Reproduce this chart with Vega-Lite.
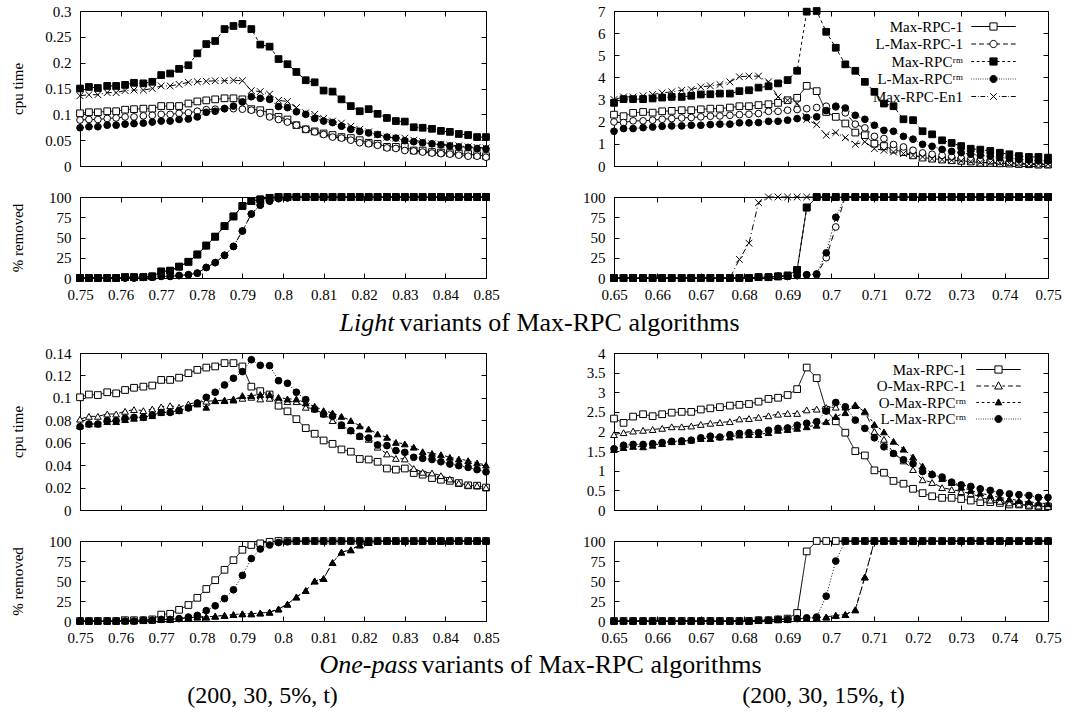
{
"$schema": "https://vega.github.io/schema/vega-lite/v6.json",
"background": "white",
"padding": {"left": 9, "top": 3, "right": 5, "bottom": 0},
"datasets": {
"cl1": [
{"t":0.75,"a":0.102,"b":0.089,"c":0.150,"d":0.074,"e":0.136},
{"t":0.7522,"a":0.104,"b":0.090,"c":0.153,"d":0.076,"e":0.138},
{"t":0.7544,"a":0.104,"b":0.090,"c":0.151,"d":0.076,"e":0.138},
{"t":0.7567,"a":0.106,"b":0.092,"c":0.155,"d":0.079,"e":0.142},
{"t":0.7589,"a":0.106,"b":0.093,"c":0.155,"d":0.079,"e":0.142},
{"t":0.7611,"a":0.109,"b":0.095,"c":0.157,"d":0.081,"e":0.146},
{"t":0.7633,"a":0.110,"b":0.095,"c":0.161,"d":0.082,"e":0.147},
{"t":0.7656,"a":0.111,"b":0.097,"c":0.160,"d":0.083,"e":0.147},
{"t":0.7678,"a":0.111,"b":0.098,"c":0.163,"d":0.085,"e":0.150},
{"t":0.77,"a":0.116,"b":0.100,"c":0.176,"d":0.087,"e":0.155},
{"t":0.7722,"a":0.116,"b":0.100,"c":0.179,"d":0.087,"e":0.155},
{"t":0.7744,"a":0.116,"b":0.102,"c":0.188,"d":0.090,"e":0.158},
{"t":0.7767,"a":0.121,"b":0.103,"c":0.195,"d":0.091,"e":0.162},
{"t":0.7789,"a":0.125,"b":0.106,"c":0.218,"d":0.095,"e":0.163},
{"t":0.7811,"a":0.127,"b":0.109,"c":0.236,"d":0.104,"e":0.164},
{"t":0.7833,"a":0.129,"b":0.110,"c":0.242,"d":0.106,"e":0.165},
{"t":0.7856,"a":0.131,"b":0.111,"c":0.265,"d":0.111,"e":0.165},
{"t":0.7878,"a":0.131,"b":0.111,"c":0.271,"d":0.116,"e":0.166},
{"t":0.79,"a":0.129,"b":0.110,"c":0.275,"d":0.124,"e":0.165},
{"t":0.7922,"a":0.110,"b":0.108,"c":0.265,"d":0.134,"e":0.146},
{"t":0.7944,"a":0.108,"b":0.102,"c":0.235,"d":0.131,"e":0.144},
{"t":0.7967,"a":0.103,"b":0.095,"c":0.231,"d":0.129,"e":0.139},
{"t":0.7989,"a":0.095,"b":0.090,"c":0.207,"d":0.115,"e":0.127},
{"t":0.8011,"a":0.090,"b":0.085,"c":0.197,"d":0.113,"e":0.125},
{"t":0.8033,"a":0.079,"b":0.079,"c":0.182,"d":0.105,"e":0.113},
{"t":0.8056,"a":0.071,"b":0.071,"c":0.166,"d":0.100,"e":0.103},
{"t":0.8078,"a":0.067,"b":0.066,"c":0.162,"d":0.092,"e":0.100},
{"t":0.81,"a":0.063,"b":0.061,"c":0.146,"d":0.087,"e":0.092},
{"t":0.8122,"a":0.060,"b":0.056,"c":0.144,"d":0.084,"e":0.087},
{"t":0.8144,"a":0.056,"b":0.054,"c":0.129,"d":0.077,"e":0.083},
{"t":0.8167,"a":0.054,"b":0.050,"c":0.116,"d":0.071,"e":0.077},
{"t":0.8189,"a":0.050,"b":0.045,"c":0.106,"d":0.067,"e":0.071},
{"t":0.8211,"a":0.045,"b":0.043,"c":0.110,"d":0.064,"e":0.066},
{"t":0.8233,"a":0.043,"b":0.040,"c":0.101,"d":0.061,"e":0.061},
{"t":0.8256,"a":0.037,"b":0.035,"c":0.093,"d":0.056,"e":0.056},
{"t":0.8278,"a":0.037,"b":0.034,"c":0.087,"d":0.054,"e":0.054},
{"t":0.83,"a":0.037,"b":0.030,"c":0.086,"d":0.049,"e":0.054},
{"t":0.8322,"a":0.030,"b":0.029,"c":0.075,"d":0.047,"e":0.050},
{"t":0.8344,"a":0.030,"b":0.027,"c":0.074,"d":0.045,"e":0.047},
{"t":0.8367,"a":0.027,"b":0.025,"c":0.072,"d":0.043,"e":0.043},
{"t":0.8389,"a":0.026,"b":0.024,"c":0.068,"d":0.041,"e":0.042},
{"t":0.8411,"a":0.025,"b":0.023,"c":0.066,"d":0.039,"e":0.040},
{"t":0.8433,"a":0.024,"b":0.021,"c":0.062,"d":0.037,"e":0.039},
{"t":0.8456,"a":0.023,"b":0.019,"c":0.060,"d":0.036,"e":0.037},
{"t":0.8478,"a":0.021,"b":0.019,"c":0.056,"d":0.034,"e":0.036},
{"t":0.85,"a":0.019,"b":0.017,"c":0.056,"d":0.033,"e":0.035}
],
"rl1": [
{"t":0.75,"a":0,"b":0,"c":0,"d":0,"e":0},
{"t":0.7522,"a":0,"b":0,"c":0,"d":0,"e":0},
{"t":0.7544,"a":0,"b":0,"c":0,"d":0,"e":0},
{"t":0.7567,"a":0,"b":0,"c":0,"d":0,"e":0},
{"t":0.7589,"a":0,"b":0,"c":0,"d":0,"e":0},
{"t":0.7611,"a":1,"b":0,"c":1,"d":0,"e":1},
{"t":0.7633,"a":1,"b":0,"c":1,"d":0,"e":1},
{"t":0.7656,"a":1,"b":1,"c":1,"d":1,"e":1},
{"t":0.7678,"a":2,"b":1,"c":2,"d":1,"e":2},
{"t":0.77,"a":8,"b":2,"c":8,"d":2,"e":8},
{"t":0.7722,"a":9,"b":2,"c":9,"d":2,"e":9},
{"t":0.7744,"a":14,"b":3,"c":14,"d":3,"e":14},
{"t":0.7767,"a":20,"b":4,"c":20,"d":4,"e":20},
{"t":0.7789,"a":29,"b":6,"c":29,"d":6,"e":29},
{"t":0.7811,"a":40,"b":13,"c":40,"d":13,"e":40},
{"t":0.7833,"a":51,"b":19,"c":51,"d":19,"e":51},
{"t":0.7856,"a":64,"b":28,"c":64,"d":28,"e":64},
{"t":0.7878,"a":76,"b":39,"c":76,"d":39,"e":76},
{"t":0.79,"a":89,"b":58,"c":89,"d":58,"e":89},
{"t":0.7922,"a":95,"b":79,"c":95,"d":79,"e":95},
{"t":0.7944,"a":97,"b":90,"c":97,"d":90,"e":97},
{"t":0.7967,"a":99,"b":95,"c":99,"d":95,"e":99},
{"t":0.7989,"a":100,"b":98,"c":100,"d":98,"e":100},
{"t":0.8011,"a":100,"b":99,"c":100,"d":99,"e":100},
{"t":0.8033,"a":100,"b":100,"c":100,"d":100,"e":100},
{"t":0.8056,"a":100,"b":100,"c":100,"d":100,"e":100},
{"t":0.8078,"a":100,"b":100,"c":100,"d":100,"e":100},
{"t":0.81,"a":100,"b":100,"c":100,"d":100,"e":100},
{"t":0.8122,"a":100,"b":100,"c":100,"d":100,"e":100},
{"t":0.8144,"a":100,"b":100,"c":100,"d":100,"e":100},
{"t":0.8167,"a":100,"b":100,"c":100,"d":100,"e":100},
{"t":0.8189,"a":100,"b":100,"c":100,"d":100,"e":100},
{"t":0.8211,"a":100,"b":100,"c":100,"d":100,"e":100},
{"t":0.8233,"a":100,"b":100,"c":100,"d":100,"e":100},
{"t":0.8256,"a":100,"b":100,"c":100,"d":100,"e":100},
{"t":0.8278,"a":100,"b":100,"c":100,"d":100,"e":100},
{"t":0.83,"a":100,"b":100,"c":100,"d":100,"e":100},
{"t":0.8322,"a":100,"b":100,"c":100,"d":100,"e":100},
{"t":0.8344,"a":100,"b":100,"c":100,"d":100,"e":100},
{"t":0.8367,"a":100,"b":100,"c":100,"d":100,"e":100},
{"t":0.8389,"a":100,"b":100,"c":100,"d":100,"e":100},
{"t":0.8411,"a":100,"b":100,"c":100,"d":100,"e":100},
{"t":0.8433,"a":100,"b":100,"c":100,"d":100,"e":100},
{"t":0.8456,"a":100,"b":100,"c":100,"d":100,"e":100},
{"t":0.8478,"a":100,"b":100,"c":100,"d":100,"e":100},
{"t":0.85,"a":100,"b":100,"c":100,"d":100,"e":100}
],
"cr1": [
{"t":0.65,"a":2.32,"b":1.99,"c":2.85,"d":1.57,"e":3.0},
{"t":0.6522,"a":2.25,"b":1.96,"c":3.02,"d":1.69,"e":3.12},
{"t":0.6544,"a":2.40,"b":2.04,"c":3.02,"d":1.69,"e":3.12},
{"t":0.6567,"a":2.44,"b":2.04,"c":3.02,"d":1.73,"e":3.17},
{"t":0.6589,"a":2.41,"b":2.07,"c":3.05,"d":1.76,"e":3.23},
{"t":0.6611,"a":2.47,"b":2.11,"c":3.09,"d":1.79,"e":3.30},
{"t":0.6633,"a":2.49,"b":2.14,"c":3.12,"d":1.81,"e":3.35},
{"t":0.6656,"a":2.52,"b":2.17,"c":3.12,"d":1.81,"e":3.42},
{"t":0.6678,"a":2.52,"b":2.19,"c":3.17,"d":1.84,"e":3.45},
{"t":0.67,"a":2.56,"b":2.22,"c":3.23,"d":1.84,"e":3.57},
{"t":0.6722,"a":2.59,"b":2.25,"c":3.24,"d":1.87,"e":3.62},
{"t":0.6744,"a":2.59,"b":2.26,"c":3.27,"d":1.89,"e":3.68},
{"t":0.6767,"a":2.64,"b":2.29,"c":3.27,"d":1.89,"e":3.80},
{"t":0.6789,"a":2.70,"b":2.32,"c":3.38,"d":1.95,"e":4.03},
{"t":0.6811,"a":2.70,"b":2.34,"c":3.42,"d":1.95,"e":4.06},
{"t":0.6833,"a":2.75,"b":2.37,"c":3.54,"d":1.96,"e":4.06},
{"t":0.6856,"a":2.79,"b":2.47,"c":3.60,"d":2.02,"e":3.80},
{"t":0.6878,"a":2.85,"b":2.47,"c":3.73,"d":2.02,"e":3.12},
{"t":0.69,"a":2.97,"b":2.52,"c":3.88,"d":2.07,"e":2.97},
{"t":0.6922,"a":3.08,"b":2.55,"c":4.30,"d":2.14,"e":2.82},
{"t":0.6944,"a":3.62,"b":2.59,"c":6.97,"d":2.19,"e":2.10},
{"t":0.6967,"a":3.38,"b":2.64,"c":7.0,"d":2.22,"e":1.87},
{"t":0.6989,"a":2.44,"b":2.70,"c":6.06,"d":2.50,"e":1.39},
{"t":0.7011,"a":2.22,"b":2.67,"c":5.34,"d":2.70,"e":1.51},
{"t":0.7033,"a":1.92,"b":2.40,"c":4.59,"d":2.62,"e":1.28},
{"t":0.7056,"a":1.51,"b":1.89,"c":4.30,"d":2.29,"e":0.98},
{"t":0.7078,"a":1.39,"b":1.72,"c":3.80,"d":2.11,"e":1.09},
{"t":0.71,"a":1.01,"b":1.34,"c":3.35,"d":1.84,"e":0.78},
{"t":0.7122,"a":0.90,"b":1.24,"c":2.82,"d":1.61,"e":0.71},
{"t":0.7144,"a":0.74,"b":0.97,"c":2.70,"d":1.57,"e":0.63},
{"t":0.7167,"a":0.63,"b":0.86,"c":2.11,"d":1.34,"e":0.56},
{"t":0.7189,"a":0.48,"b":0.71,"c":2.07,"d":1.21,"e":0.48},
{"t":0.7211,"a":0.38,"b":0.59,"c":1.57,"d":0.98,"e":0.41},
{"t":0.7233,"a":0.33,"b":0.53,"c":1.43,"d":0.89,"e":0.33},
{"t":0.7256,"a":0.29,"b":0.48,"c":1.16,"d":0.75,"e":0.29},
{"t":0.7278,"a":0.26,"b":0.41,"c":1.04,"d":0.66,"e":0.26},
{"t":0.73,"a":0.23,"b":0.35,"c":0.90,"d":0.60,"e":0.23},
{"t":0.7322,"a":0.20,"b":0.30,"c":0.78,"d":0.53,"e":0.20},
{"t":0.7344,"a":0.15,"b":0.26,"c":0.74,"d":0.48,"e":0.17},
{"t":0.7367,"a":0.14,"b":0.23,"c":0.68,"d":0.44,"e":0.15},
{"t":0.7389,"a":0.12,"b":0.20,"c":0.60,"d":0.38,"e":0.14},
{"t":0.7411,"a":0.11,"b":0.17,"c":0.53,"d":0.35,"e":0.12},
{"t":0.7433,"a":0.09,"b":0.14,"c":0.45,"d":0.30,"e":0.11},
{"t":0.7456,"a":0.08,"b":0.11,"c":0.41,"d":0.27,"e":0.09},
{"t":0.7478,"a":0.06,"b":0.09,"c":0.41,"d":0.24,"e":0.09},
{"t":0.75,"a":0.06,"b":0.08,"c":0.38,"d":0.23,"e":0.08}
],
"rr1": [
{"t":0.65,"a":0,"b":0,"c":0,"d":0,"e":0},
{"t":0.6522,"a":0,"b":0,"c":0,"d":0,"e":0},
{"t":0.6544,"a":0,"b":0,"c":0,"d":0,"e":0},
{"t":0.6567,"a":0,"b":0,"c":0,"d":0,"e":0},
{"t":0.6589,"a":0,"b":0,"c":0,"d":0,"e":0},
{"t":0.6611,"a":0,"b":0,"c":0,"d":0,"e":0},
{"t":0.6633,"a":0,"b":0,"c":0,"d":0,"e":0},
{"t":0.6656,"a":0,"b":0,"c":0,"d":0,"e":0},
{"t":0.6678,"a":0,"b":0,"c":0,"d":0,"e":0},
{"t":0.67,"a":0,"b":0,"c":0,"d":0,"e":0},
{"t":0.6722,"a":0,"b":0,"c":0,"d":0,"e":0},
{"t":0.6744,"a":0,"b":0,"c":0,"d":0,"e":0},
{"t":0.6767,"a":0,"b":0,"c":0,"d":0,"e":0},
{"t":0.6789,"a":0,"b":0,"c":0,"d":0,"e":23},
{"t":0.6811,"a":0,"b":0,"c":0,"d":0,"e":43},
{"t":0.6833,"a":1,"b":1,"c":1,"d":1,"e":93},
{"t":0.6856,"a":1,"b":1,"c":1,"d":1,"e":100},
{"t":0.6878,"a":2,"b":2,"c":2,"d":2,"e":100},
{"t":0.69,"a":3,"b":2,"c":3,"d":2,"e":100},
{"t":0.6922,"a":10,"b":3,"c":10,"d":3,"e":100},
{"t":0.6944,"a":87,"b":4,"c":87,"d":4,"e":100},
{"t":0.6967,"a":100,"b":4,"c":100,"d":5,"e":100},
{"t":0.6989,"a":100,"b":25,"c":100,"d":31,"e":100},
{"t":0.7011,"a":100,"b":63,"c":100,"d":75,"e":100},
{"t":0.7033,"a":100,"b":100,"c":100,"d":100,"e":100},
{"t":0.7056,"a":100,"b":100,"c":100,"d":100,"e":100},
{"t":0.7078,"a":100,"b":100,"c":100,"d":100,"e":100},
{"t":0.71,"a":100,"b":100,"c":100,"d":100,"e":100},
{"t":0.7122,"a":100,"b":100,"c":100,"d":100,"e":100},
{"t":0.7144,"a":100,"b":100,"c":100,"d":100,"e":100},
{"t":0.7167,"a":100,"b":100,"c":100,"d":100,"e":100},
{"t":0.7189,"a":100,"b":100,"c":100,"d":100,"e":100},
{"t":0.7211,"a":100,"b":100,"c":100,"d":100,"e":100},
{"t":0.7233,"a":100,"b":100,"c":100,"d":100,"e":100},
{"t":0.7256,"a":100,"b":100,"c":100,"d":100,"e":100},
{"t":0.7278,"a":100,"b":100,"c":100,"d":100,"e":100},
{"t":0.73,"a":100,"b":100,"c":100,"d":100,"e":100},
{"t":0.7322,"a":100,"b":100,"c":100,"d":100,"e":100},
{"t":0.7344,"a":100,"b":100,"c":100,"d":100,"e":100},
{"t":0.7367,"a":100,"b":100,"c":100,"d":100,"e":100},
{"t":0.7389,"a":100,"b":100,"c":100,"d":100,"e":100},
{"t":0.7411,"a":100,"b":100,"c":100,"d":100,"e":100},
{"t":0.7433,"a":100,"b":100,"c":100,"d":100,"e":100},
{"t":0.7456,"a":100,"b":100,"c":100,"d":100,"e":100},
{"t":0.7478,"a":100,"b":100,"c":100,"d":100,"e":100},
{"t":0.75,"a":100,"b":100,"c":100,"d":100,"e":100}
],
"cl2": [
{"t":0.75,"a":0.1005,"b":0.081,"c":0.075,"d":0.0743},
{"t":0.7522,"a":0.103,"b":0.0835,"c":0.0767,"d":0.0767},
{"t":0.7544,"a":0.1025,"b":0.0835,"c":0.0767,"d":0.0767},
{"t":0.7567,"a":0.105,"b":0.0856,"c":0.0788,"d":0.0797},
{"t":0.7589,"a":0.104,"b":0.0856,"c":0.0788,"d":0.0797},
{"t":0.7611,"a":0.107,"b":0.088,"c":0.0806,"d":0.0818},
{"t":0.7633,"a":0.109,"b":0.0895,"c":0.0818,"d":0.0826},
{"t":0.7656,"a":0.110,"b":0.0886,"c":0.0826,"d":0.0826},
{"t":0.7678,"a":0.111,"b":0.090,"c":0.0841,"d":0.0847},
{"t":0.77,"a":0.116,"b":0.092,"c":0.087,"d":0.087},
{"t":0.7722,"a":0.116,"b":0.093,"c":0.0877,"d":0.087},
{"t":0.7744,"a":0.118,"b":0.0916,"c":0.0886,"d":0.0886},
{"t":0.7767,"a":0.122,"b":0.0945,"c":0.0916,"d":0.091},
{"t":0.7789,"a":0.125,"b":0.096,"c":0.0945,"d":0.0954},
{"t":0.7811,"a":0.127,"b":0.097,"c":0.0916,"d":0.1005},
{"t":0.7833,"a":0.128,"b":0.0975,"c":0.0975,"d":0.105},
{"t":0.7856,"a":0.131,"b":0.098,"c":0.0975,"d":0.1115},
{"t":0.7878,"a":0.131,"b":0.099,"c":0.098,"d":0.1175},
{"t":0.79,"a":0.128,"b":0.0996,"c":0.102,"d":0.1234},
{"t":0.7922,"a":0.110,"b":0.1005,"c":0.102,"d":0.134},
{"t":0.7944,"a":0.106,"b":0.099,"c":0.103,"d":0.129},
{"t":0.7967,"a":0.103,"b":0.0996,"c":0.103,"d":0.1287},
{"t":0.7989,"a":0.093,"b":0.098,"c":0.1005,"d":0.1153},
{"t":0.8011,"a":0.088,"b":0.0966,"c":0.099,"d":0.113},
{"t":0.8033,"a":0.081,"b":0.0966,"c":0.099,"d":0.105},
{"t":0.8056,"a":0.073,"b":0.0916,"c":0.0954,"d":0.0984},
{"t":0.8078,"a":0.068,"b":0.090,"c":0.0925,"d":0.090},
{"t":0.81,"a":0.062,"b":0.0856,"c":0.0886,"d":0.0856},
{"t":0.8122,"a":0.059,"b":0.0797,"c":0.0865,"d":0.0835},
{"t":0.8144,"a":0.054,"b":0.0752,"c":0.0835,"d":0.0758},
{"t":0.8167,"a":0.052,"b":0.0707,"c":0.0797,"d":0.0707},
{"t":0.8189,"a":0.0455,"b":0.0657,"c":0.075,"d":0.0657},
{"t":0.8211,"a":0.045,"b":0.063,"c":0.0722,"d":0.0642},
{"t":0.8233,"a":0.043,"b":0.056,"c":0.0678,"d":0.058},
{"t":0.8256,"a":0.037,"b":0.050,"c":0.0648,"d":0.0574},
{"t":0.8278,"a":0.036,"b":0.046,"c":0.0603,"d":0.053},
{"t":0.83,"a":0.037,"b":0.0455,"c":0.0589,"d":0.0514},
{"t":0.8322,"a":0.033,"b":0.037,"c":0.056,"d":0.047},
{"t":0.8344,"a":0.0315,"b":0.0336,"c":0.052,"d":0.046},
{"t":0.8367,"a":0.0285,"b":0.033,"c":0.0505,"d":0.045},
{"t":0.8389,"a":0.027,"b":0.0306,"c":0.0493,"d":0.043},
{"t":0.8411,"a":0.026,"b":0.0276,"c":0.047,"d":0.041},
{"t":0.8433,"a":0.024,"b":0.024,"c":0.0455,"d":0.0395},
{"t":0.8456,"a":0.022,"b":0.022,"c":0.044,"d":0.038},
{"t":0.8478,"a":0.0217,"b":0.0217,"c":0.042,"d":0.036},
{"t":0.85,"a":0.020,"b":0.020,"c":0.040,"d":0.034}
],
"rl2": [
{"t":0.75,"a":0,"b":0,"c":0,"d":0},
{"t":0.7522,"a":0,"b":0,"c":0,"d":0},
{"t":0.7544,"a":0,"b":0,"c":0,"d":0},
{"t":0.7567,"a":0,"b":0,"c":0,"d":0},
{"t":0.7589,"a":0,"b":0,"c":0,"d":0},
{"t":0.7611,"a":1,"b":0,"c":0,"d":0},
{"t":0.7633,"a":1,"b":0,"c":0,"d":0},
{"t":0.7656,"a":1,"b":1,"c":1,"d":1},
{"t":0.7678,"a":2,"b":1,"c":1,"d":1},
{"t":0.77,"a":8,"b":2,"c":2,"d":2},
{"t":0.7722,"a":9,"b":2,"c":2,"d":2},
{"t":0.7744,"a":14,"b":3,"c":3,"d":3},
{"t":0.7767,"a":20,"b":4,"c":4,"d":5},
{"t":0.7789,"a":29,"b":5,"c":5,"d":7},
{"t":0.7811,"a":40,"b":5,"c":5,"d":13},
{"t":0.7833,"a":51,"b":6,"c":6,"d":19},
{"t":0.7856,"a":64,"b":7,"c":7,"d":28},
{"t":0.7878,"a":76,"b":8,"c":8,"d":39},
{"t":0.79,"a":89,"b":9,"c":9,"d":57},
{"t":0.7922,"a":95,"b":9,"c":9,"d":78},
{"t":0.7944,"a":97,"b":10,"c":10,"d":90},
{"t":0.7967,"a":99,"b":11,"c":11,"d":95},
{"t":0.7989,"a":100,"b":15,"c":15,"d":98},
{"t":0.8011,"a":100,"b":21,"c":21,"d":99},
{"t":0.8033,"a":100,"b":30,"c":30,"d":100},
{"t":0.8056,"a":100,"b":38,"c":38,"d":100},
{"t":0.8078,"a":100,"b":50,"c":50,"d":100},
{"t":0.81,"a":100,"b":53,"c":53,"d":100},
{"t":0.8122,"a":100,"b":73,"c":73,"d":100},
{"t":0.8144,"a":100,"b":86,"c":86,"d":100},
{"t":0.8167,"a":100,"b":89,"c":89,"d":100},
{"t":0.8189,"a":100,"b":95,"c":95,"d":100},
{"t":0.8211,"a":100,"b":98,"c":98,"d":100},
{"t":0.8233,"a":100,"b":100,"c":100,"d":100},
{"t":0.8256,"a":100,"b":100,"c":100,"d":100},
{"t":0.8278,"a":100,"b":100,"c":100,"d":100},
{"t":0.83,"a":100,"b":100,"c":100,"d":100},
{"t":0.8322,"a":100,"b":100,"c":100,"d":100},
{"t":0.8344,"a":100,"b":100,"c":100,"d":100},
{"t":0.8367,"a":100,"b":100,"c":100,"d":100},
{"t":0.8389,"a":100,"b":100,"c":100,"d":100},
{"t":0.8411,"a":100,"b":100,"c":100,"d":100},
{"t":0.8433,"a":100,"b":100,"c":100,"d":100},
{"t":0.8456,"a":100,"b":100,"c":100,"d":100},
{"t":0.8478,"a":100,"b":100,"c":100,"d":100},
{"t":0.85,"a":100,"b":100,"c":100,"d":100}
],
"cr2": [
{"t":0.65,"a":2.33,"b":1.92,"c":1.54,"d":1.56},
{"t":0.6522,"a":2.22,"b":1.97,"c":1.59,"d":1.65},
{"t":0.6544,"a":2.38,"b":2.01,"c":1.62,"d":1.67},
{"t":0.6567,"a":2.44,"b":2.03,"c":1.61,"d":1.67},
{"t":0.6589,"a":2.39,"b":2.05,"c":1.65,"d":1.69},
{"t":0.6611,"a":2.44,"b":2.08,"c":1.69,"d":1.72},
{"t":0.6633,"a":2.48,"b":2.12,"c":1.74,"d":1.75},
{"t":0.6656,"a":2.50,"b":2.12,"c":1.74,"d":1.76},
{"t":0.6678,"a":2.50,"b":2.14,"c":1.78,"d":1.78},
{"t":0.67,"a":2.56,"b":2.18,"c":1.82,"d":1.84},
{"t":0.6722,"a":2.59,"b":2.21,"c":1.82,"d":1.88},
{"t":0.6744,"a":2.62,"b":2.23,"c":1.86,"d":1.86},
{"t":0.6767,"a":2.66,"b":2.25,"c":1.86,"d":1.92},
{"t":0.6789,"a":2.68,"b":2.32,"c":1.91,"d":1.95},
{"t":0.6811,"a":2.70,"b":2.33,"c":1.92,"d":1.97},
{"t":0.6833,"a":2.76,"b":2.36,"c":1.92,"d":1.97},
{"t":0.6856,"a":2.83,"b":2.40,"c":1.97,"d":2.03},
{"t":0.6878,"a":2.86,"b":2.44,"c":2.03,"d":2.08},
{"t":0.69,"a":2.93,"b":2.46,"c":2.05,"d":2.09},
{"t":0.6922,"a":3.08,"b":2.46,"c":2.08,"d":2.16},
{"t":0.6944,"a":3.63,"b":2.55,"c":2.12,"d":2.21},
{"t":0.6967,"a":3.36,"b":2.57,"c":2.16,"d":2.25},
{"t":0.6989,"a":2.55,"b":2.61,"c":2.25,"d":2.52},
{"t":0.7011,"a":2.26,"b":2.62,"c":2.38,"d":2.74},
{"t":0.7033,"a":1.97,"b":2.62,"c":2.48,"d":2.63},
{"t":0.7056,"a":1.50,"b":2.66,"c":2.68,"d":2.29},
{"t":0.7078,"a":1.39,"b":2.50,"c":2.52,"d":2.08},
{"t":0.71,"a":1.01,"b":2.00,"c":2.18,"d":1.84},
{"t":0.7122,"a":0.95,"b":1.80,"c":1.99,"d":1.61},
{"t":0.7144,"a":0.74,"b":1.45,"c":1.75,"d":1.44},
{"t":0.7167,"a":0.67,"b":1.25,"c":1.55,"d":1.28},
{"t":0.7189,"a":0.54,"b":1.03,"c":1.35,"d":1.18},
{"t":0.7211,"a":0.43,"b":0.77,"c":1.12,"d":0.98},
{"t":0.7233,"a":0.35,"b":0.70,"c":0.93,"d":0.90},
{"t":0.7256,"a":0.31,"b":0.57,"c":0.80,"d":0.84},
{"t":0.7278,"a":0.31,"b":0.52,"c":0.70,"d":0.71},
{"t":0.73,"a":0.28,"b":0.47,"c":0.58,"d":0.64},
{"t":0.7322,"a":0.24,"b":0.42,"c":0.50,"d":0.60},
{"t":0.7344,"a":0.20,"b":0.33,"c":0.43,"d":0.54},
{"t":0.7367,"a":0.20,"b":0.25,"c":0.37,"d":0.50},
{"t":0.7389,"a":0.18,"b":0.22,"c":0.32,"d":0.44},
{"t":0.7411,"a":0.14,"b":0.18,"c":0.28,"d":0.41},
{"t":0.7433,"a":0.14,"b":0.15,"c":0.24,"d":0.39},
{"t":0.7456,"a":0.11,"b":0.12,"c":0.21,"d":0.37},
{"t":0.7478,"a":0.09,"b":0.10,"c":0.18,"d":0.32},
{"t":0.75,"a":0.09,"b":0.09,"c":0.16,"d":0.32}
],
"rr2": [
{"t":0.65,"a":0,"b":0,"c":0,"d":0},
{"t":0.6522,"a":0,"b":0,"c":0,"d":0},
{"t":0.6544,"a":0,"b":0,"c":0,"d":0},
{"t":0.6567,"a":0,"b":0,"c":0,"d":0},
{"t":0.6589,"a":0,"b":0,"c":0,"d":0},
{"t":0.6611,"a":0,"b":0,"c":0,"d":0},
{"t":0.6633,"a":0,"b":0,"c":0,"d":0},
{"t":0.6656,"a":0,"b":0,"c":0,"d":0},
{"t":0.6678,"a":0,"b":0,"c":0,"d":0},
{"t":0.67,"a":0,"b":0,"c":0,"d":0},
{"t":0.6722,"a":0,"b":0,"c":0,"d":0},
{"t":0.6744,"a":0,"b":0,"c":0,"d":0},
{"t":0.6767,"a":0,"b":0,"c":0,"d":0},
{"t":0.6789,"a":0,"b":0,"c":0,"d":0},
{"t":0.6811,"a":0,"b":0,"c":0,"d":0},
{"t":0.6833,"a":1,"b":1,"c":1,"d":1},
{"t":0.6856,"a":1,"b":1,"c":1,"d":1},
{"t":0.6878,"a":2,"b":2,"c":2,"d":2},
{"t":0.69,"a":3,"b":2,"c":2,"d":2},
{"t":0.6922,"a":10,"b":3,"c":3,"d":3},
{"t":0.6944,"a":87,"b":3,"c":3,"d":4},
{"t":0.6967,"a":100,"b":4,"c":4,"d":5},
{"t":0.6989,"a":100,"b":5,"c":5,"d":31},
{"t":0.7011,"a":100,"b":7,"c":7,"d":75},
{"t":0.7033,"a":100,"b":8,"c":8,"d":100},
{"t":0.7056,"a":100,"b":14,"c":14,"d":100},
{"t":0.7078,"a":100,"b":55,"c":55,"d":100},
{"t":0.71,"a":100,"b":100,"c":100,"d":100},
{"t":0.7122,"a":100,"b":100,"c":100,"d":100},
{"t":0.7144,"a":100,"b":100,"c":100,"d":100},
{"t":0.7167,"a":100,"b":100,"c":100,"d":100},
{"t":0.7189,"a":100,"b":100,"c":100,"d":100},
{"t":0.7211,"a":100,"b":100,"c":100,"d":100},
{"t":0.7233,"a":100,"b":100,"c":100,"d":100},
{"t":0.7256,"a":100,"b":100,"c":100,"d":100},
{"t":0.7278,"a":100,"b":100,"c":100,"d":100},
{"t":0.73,"a":100,"b":100,"c":100,"d":100},
{"t":0.7322,"a":100,"b":100,"c":100,"d":100},
{"t":0.7344,"a":100,"b":100,"c":100,"d":100},
{"t":0.7367,"a":100,"b":100,"c":100,"d":100},
{"t":0.7389,"a":100,"b":100,"c":100,"d":100},
{"t":0.7411,"a":100,"b":100,"c":100,"d":100},
{"t":0.7433,"a":100,"b":100,"c":100,"d":100},
{"t":0.7456,"a":100,"b":100,"c":100,"d":100},
{"t":0.7478,"a":100,"b":100,"c":100,"d":100},
{"t":0.75,"a":100,"b":100,"c":100,"d":100}
]
},
"vconcat": [
{
"concat": [
{"width":406,"height":155,"data":{"name":"cl1"},
 "transform":[{"fold":["a","b","c","d","e"],"as":["s","v"]}],
 "layer":[
  {"mark":{"type":"line","color":"black","strokeWidth":1},
   "encoding":{
    "x":{"field":"t","type":"quantitative","scale":{"domain":[0.75,0.85],"nice":false,"zero":false},"axis":{"values":[0.75,0.76,0.77,0.78,0.79,0.8,0.81,0.82,0.83,0.84,0.85],"labels":false,"title":null}},
    "y":{"field":"v","type":"quantitative","scale":{"domain":[0,0.3],"nice":false},"axis":{"values":[0,0.05,0.1,0.15,0.2,0.25,0.3],"format":"~g","title":"cpu time","titleX":-55,"titleY":77.5,"titleAngle":-90,"titleAlign":"center","titleBaseline":"bottom"}},
    "strokeDash":{"field":"s","type":"nominal","scale":{"domain":["a","b","c","d","e"],"range":[[1,0],[6,4],[3,3],[1,2],[6,3,1,3]]},"legend":null}}},
  {"mark":{"type":"point","size":45,"stroke":"black","strokeWidth":1,"opacity":1},
   "encoding":{
    "x":{"field":"t","type":"quantitative","scale":{"domain":[0.75,0.85],"nice":false,"zero":false},"axis":{"orient":"top","values":[0.75,0.76,0.77,0.78,0.79,0.8,0.81,0.82,0.83,0.84,0.85],"labels":false,"title":null}},
    "y":{"field":"v","type":"quantitative","scale":{"domain":[0,0.3],"nice":false},"axis":{"orient":"right","values":[0,0.05,0.1,0.15,0.2,0.25,0.3],"labels":false,"title":null}},
    "shape":{"field":"s","type":"nominal","scale":{"domain":["a","b","c","d","e"],"range":["square","circle","square","circle","M-1,-1L1,1M-1,1L1,-1"]},"legend":null},
    "fill":{"field":"s","type":"nominal","scale":{"domain":["a","b","c","d","e"],"range":["white","white","black","black","black"]},"legend":null}}}
 ],
 "resolve":{"axis":{"x":"independent","y":"independent"}}
},
{"width":434,"height":155,"data":{"name":"cr1"},
 "transform":[{"fold":["a","b","c","d","e"],"as":["s","v"]}],
 "layer":[
  {"mark":{"type":"line","color":"black","strokeWidth":1},
   "encoding":{
    "x":{"field":"t","type":"quantitative","scale":{"domain":[0.65,0.75],"nice":false,"zero":false},"axis":{"values":[0.65,0.66,0.67,0.68,0.69,0.7,0.71,0.72,0.73,0.74,0.75],"labels":false,"title":null}},
    "y":{"field":"v","type":"quantitative","scale":{"domain":[0,7],"nice":false},"axis":{"values":[0,1,2,3,4,5,6,7],"format":"d","title":null}},
    "strokeDash":{"field":"s","type":"nominal","scale":{"domain":["a","b","c","d","e"],"range":[[1,0],[6,4],[3,3],[1,2],[6,3,1,3]]},"legend":null}}},
  {"mark":{"type":"point","size":45,"stroke":"black","strokeWidth":1,"opacity":1},
   "encoding":{
    "x":{"field":"t","type":"quantitative","scale":{"domain":[0.65,0.75],"nice":false,"zero":false},"axis":{"orient":"top","values":[0.65,0.66,0.67,0.68,0.69,0.7,0.71,0.72,0.73,0.74,0.75],"labels":false,"title":null}},
    "y":{"field":"v","type":"quantitative","scale":{"domain":[0,7],"nice":false},"axis":{"orient":"right","values":[0,1,2,3,4,5,6,7],"labels":false,"title":null}},
    "shape":{"field":"s","type":"nominal","scale":{"domain":["a","b","c","d","e"],"range":["square","circle","square","circle","M-1,-1L1,1M-1,1L1,-1"]},"legend":null},
    "fill":{"field":"s","type":"nominal","scale":{"domain":["a","b","c","d","e"],"range":["white","white","black","black","black"]},"legend":null}}},
  {"transform":[{"filter":"datum.v < 0"}],
   "mark":{"type":"point","size":45,"stroke":"black","strokeWidth":1,"opacity":1},
   "encoding":{
    "x":{"field":"t","type":"quantitative","axis":null},
    "y":{"field":"v","type":"quantitative","axis":null},
    "shape":{"field":"s","type":"nominal","scale":{"domain":["a","b","c","d","e"],"range":["M-3.7,0H-0.6M0.6,0H3.7M-0.6,-0.6H0.6V0.6H-0.6Z","M-3.7,0H-2.9M-2.4,0H-1.6M-1.1,0H-0.6M0.6,0H1.1M1.6,0H2.4M2.9,0H3.7M0.6,0A0.6,0.6,0,1,1,-0.6,0A0.6,0.6,0,1,1,0.6,0Z","M-3.7,0H-3.25M-2.8,0H-2.35M-1.9,0H-1.45M-1,0H-0.6M0.6,0H1M1.45,0H1.9M2.35,0H2.8M3.25,0H3.7M-0.6,-0.6H0.6V0.6H-0.6Z","M-3.7,0H-3.58M-3.32,0H-3.2M-2.94,0H-2.82M-2.56,0H-2.44M-2.18,0H-2.06M-1.8,0H-1.68M-1.42,0H-1.3M-1.04,0H-0.92M0.92,0H1.04M1.3,0H1.42M1.68,0H1.8M2.06,0H2.18M2.44,0H2.56M2.82,0H2.94M3.2,0H3.32M3.58,0H3.7M0.6,0A0.6,0.6,0,1,1,-0.6,0A0.6,0.6,0,1,1,0.6,0Z","M-3.7,0H-2.9M-2.6,0H-2.48M-2.18,0H-1.38M-1.08,0H-0.96M0.96,0H1.08M1.38,0H2.18M2.48,0H2.6M2.9,0H3.7M-0.55,-0.55L0.55,0.55M-0.55,0.55L0.55,-0.55"]},
     "legend":{"orient":"none","legendX":372,"legendY":8,"title":null,"padding":0,"rowPadding":1.5,"symbolSize":144,"symbolStrokeWidth":1,"symbolStrokeColor":"black","symbolOpacity":1,"labelAlign":"right","labelOffset":-23,"labelExpr":"{'a':'Max-RPC-1','b':'L-Max-RPC-1','c':'Max-RPCʳᵐ','d':'L-Max-RPCʳᵐ','e':'Max-RPC-En1'}[datum.value]","encode":{"symbols":{"update":{"stroke":{"value":"black"},"strokeWidth":{"value":1},"opacity":{"value":1}}},"labels":{"update":{"dx":{"value":-15}}}}}},
    "fill":{"field":"s","type":"nominal","scale":{"domain":["a","b","c","d","e"],"range":["white","white","black","black","black"]},
     "legend":{"orient":"none","legendX":372,"legendY":8,"title":null,"padding":0,"rowPadding":1.5,"symbolSize":144,"symbolStrokeWidth":1,"symbolStrokeColor":"black","symbolOpacity":1,"labelAlign":"right","labelOffset":-23,"labelExpr":"{'a':'Max-RPC-1','b':'L-Max-RPC-1','c':'Max-RPCʳᵐ','d':'L-Max-RPCʳᵐ','e':'Max-RPC-En1'}[datum.value]","encode":{"symbols":{"update":{"stroke":{"value":"black"},"strokeWidth":{"value":1},"opacity":{"value":1}}},"labels":{"update":{"dx":{"value":-15}}}}}}}}
 ],
 "resolve":{"axis":{"x":"independent","y":"independent"},"scale":{"shape":"independent","fill":"independent"}}
},
{"width":406,"height":81,"data":{"name":"rl1"},
 "transform":[{"fold":["a","b","c","d","e"],"as":["s","v"]}],
 "layer":[
  {"mark":{"type":"line","color":"black","strokeWidth":1},
   "encoding":{
    "x":{"field":"t","type":"quantitative","scale":{"domain":[0.75,0.85],"nice":false,"zero":false},"axis":{"values":[0.75,0.76,0.77,0.78,0.79,0.8,0.81,0.82,0.83,0.84,0.85],"format":"~g","title":"Light","titleFontStyle":"italic","titleFontSize":26,"titleX":259,"titleY":52,"titleAlign":"left","titleBaseline":"alphabetic","titleAngle":0}},
    "y":{"field":"v","type":"quantitative","scale":{"domain":[0,100],"nice":false},"axis":{"values":[0,25,50,75,100],"format":"d","title":"% removed","titleX":-55,"titleY":40.5,"titleAngle":-90,"titleAlign":"center","titleBaseline":"bottom"}},
    "strokeDash":{"field":"s","type":"nominal","scale":{"domain":["a","b","c","d","e"],"range":[[1,0],[6,4],[3,3],[1,2],[6,3,1,3]]},"legend":null}}},
  {"mark":{"type":"point","size":45,"stroke":"black","strokeWidth":1,"opacity":1},
   "encoding":{
    "x":{"field":"t","type":"quantitative","scale":{"domain":[0.75,0.85],"nice":false,"zero":false},"axis":{"orient":"top","values":[0.75,0.76,0.77,0.78,0.79,0.8,0.81,0.82,0.83,0.84,0.85],"labels":false,"title":null}},
    "y":{"field":"v","type":"quantitative","scale":{"domain":[0,100],"nice":false},"axis":{"orient":"right","values":[0,25,50,75,100],"labels":false,"title":null}},
    "shape":{"field":"s","type":"nominal","scale":{"domain":["a","b","c","d","e"],"range":["square","circle","square","circle","M-1,-1L1,1M-1,1L1,-1"]},"legend":null},
    "fill":{"field":"s","type":"nominal","scale":{"domain":["a","b","c","d","e"],"range":["white","white","black","black","black"]},"legend":null}}}
 ],
 "resolve":{"axis":{"x":"independent","y":"independent"}}
},
{"width":434,"height":81,"data":{"name":"rr1"},
 "transform":[{"fold":["a","b","c","d","e"],"as":["s","v"]}],
 "layer":[
  {"mark":{"type":"line","color":"black","strokeWidth":1},
   "encoding":{
    "x":{"field":"t","type":"quantitative","scale":{"domain":[0.65,0.75],"nice":false,"zero":false},"axis":{"values":[0.65,0.66,0.67,0.68,0.69,0.7,0.71,0.72,0.73,0.74,0.75],"format":"~g","title":"variants of Max-RPC algorithms","titleFontSize":26,"titleX":-215,"titleY":52,"titleAlign":"left","titleBaseline":"alphabetic","titleAngle":0}},
    "y":{"field":"v","type":"quantitative","scale":{"domain":[0,100],"nice":false},"axis":{"values":[0,25,50,75,100],"format":"d","title":null}},
    "strokeDash":{"field":"s","type":"nominal","scale":{"domain":["a","b","c","d","e"],"range":[[1,0],[6,4],[3,3],[1,2],[6,3,1,3]]},"legend":null}}},
  {"mark":{"type":"point","size":45,"stroke":"black","strokeWidth":1,"opacity":1},
   "encoding":{
    "x":{"field":"t","type":"quantitative","scale":{"domain":[0.65,0.75],"nice":false,"zero":false},"axis":{"orient":"top","values":[0.65,0.66,0.67,0.68,0.69,0.7,0.71,0.72,0.73,0.74,0.75],"labels":false,"title":null}},
    "y":{"field":"v","type":"quantitative","scale":{"domain":[0,100],"nice":false},"axis":{"orient":"right","values":[0,25,50,75,100],"labels":false,"title":null}},
    "shape":{"field":"s","type":"nominal","scale":{"domain":["a","b","c","d","e"],"range":["square","circle","square","circle","M-1,-1L1,1M-1,1L1,-1"]},"legend":null},
    "fill":{"field":"s","type":"nominal","scale":{"domain":["a","b","c","d","e"],"range":["white","white","black","black","black"]},"legend":null}}}
 ],
 "resolve":{"axis":{"x":"independent","y":"independent"}}
}
],
"columns": 2,
"spacing": {"row": 31, "column": 128},
"bounds": "flush",
"resolve": {"scale": {"strokeDash":"independent","shape":"independent","fill":"independent"}, "legend": {"strokeDash":"independent","shape":"independent","fill":"independent"}}
},
{
"concat": [
{"width":406,"height":157,"data":{"name":"cl2"},
 "transform":[{"fold":["a","b","c","d"],"as":["s","v"]}],
 "layer":[
  {"mark":{"type":"line","color":"black","strokeWidth":1},
   "encoding":{
    "x":{"field":"t","type":"quantitative","scale":{"domain":[0.75,0.85],"nice":false,"zero":false},"axis":{"values":[0.75,0.76,0.77,0.78,0.79,0.8,0.81,0.82,0.83,0.84,0.85],"labels":false,"title":null}},
    "y":{"field":"v","type":"quantitative","scale":{"domain":[0,0.14],"nice":false},"axis":{"values":[0,0.02,0.04,0.06,0.08,0.1,0.12,0.14],"format":"~g","title":"cpu time","titleX":-55,"titleY":78.5,"titleAngle":-90,"titleAlign":"center","titleBaseline":"bottom"}},
    "strokeDash":{"field":"s","type":"nominal","scale":{"domain":["a","b","c","d"],"range":[[1,0],[6,4],[3,3],[1,2]]},"legend":null}}},
  {"mark":{"type":"point","size":45,"stroke":"black","strokeWidth":1,"opacity":1},
   "encoding":{
    "x":{"field":"t","type":"quantitative","scale":{"domain":[0.75,0.85],"nice":false,"zero":false},"axis":{"orient":"top","values":[0.75,0.76,0.77,0.78,0.79,0.8,0.81,0.82,0.83,0.84,0.85],"labels":false,"title":null}},
    "y":{"field":"v","type":"quantitative","scale":{"domain":[0,0.14],"nice":false},"axis":{"orient":"right","values":[0,0.02,0.04,0.06,0.08,0.1,0.12,0.14],"labels":false,"title":null}},
    "shape":{"field":"s","type":"nominal","scale":{"domain":["a","b","c","d"],"range":["square","triangle-up","triangle-up","circle"]},"legend":null},
    "fill":{"field":"s","type":"nominal","scale":{"domain":["a","b","c","d"],"range":["white","white","black","black"]},"legend":null}}}
 ],
 "resolve":{"axis":{"x":"independent","y":"independent"}}
},
{"width":434,"height":157,"data":{"name":"cr2"},
 "transform":[{"fold":["a","b","c","d"],"as":["s","v"]}],
 "layer":[
  {"mark":{"type":"line","color":"black","strokeWidth":1},
   "encoding":{
    "x":{"field":"t","type":"quantitative","scale":{"domain":[0.65,0.75],"nice":false,"zero":false},"axis":{"values":[0.65,0.66,0.67,0.68,0.69,0.7,0.71,0.72,0.73,0.74,0.75],"labels":false,"title":null}},
    "y":{"field":"v","type":"quantitative","scale":{"domain":[0,4],"nice":false},"axis":{"values":[0,0.5,1,1.5,2,2.5,3,3.5,4],"format":"~g","title":null}},
    "strokeDash":{"field":"s","type":"nominal","scale":{"domain":["a","b","c","d"],"range":[[1,0],[6,4],[3,3],[1,2]]},"legend":null}}},
  {"mark":{"type":"point","size":45,"stroke":"black","strokeWidth":1,"opacity":1},
   "encoding":{
    "x":{"field":"t","type":"quantitative","scale":{"domain":[0.65,0.75],"nice":false,"zero":false},"axis":{"orient":"top","values":[0.65,0.66,0.67,0.68,0.69,0.7,0.71,0.72,0.73,0.74,0.75],"labels":false,"title":null}},
    "y":{"field":"v","type":"quantitative","scale":{"domain":[0,4],"nice":false},"axis":{"orient":"right","values":[0,0.5,1,1.5,2,2.5,3,3.5,4],"labels":false,"title":null}},
    "shape":{"field":"s","type":"nominal","scale":{"domain":["a","b","c","d"],"range":["square","triangle-up","triangle-up","circle"]},"legend":null},
    "fill":{"field":"s","type":"nominal","scale":{"domain":["a","b","c","d"],"range":["white","white","black","black"]},"legend":null}}},
  {"transform":[{"filter":"datum.v < 0"}],
   "mark":{"type":"point","size":45,"stroke":"black","strokeWidth":1,"opacity":1},
   "encoding":{
    "x":{"field":"t","type":"quantitative","axis":null},
    "y":{"field":"v","type":"quantitative","axis":null},
    "shape":{"field":"s","type":"nominal","scale":{"domain":["a","b","c","d"],"range":["M-3.7,0H-0.6M0.6,0H3.7M-0.6,-0.6H0.6V0.6H-0.6Z","M-3.7,0H-2.9M-2.4,0H-1.6M-1.1,0H-0.65M0.65,0H1.1M1.6,0H2.4M2.9,0H3.7M0,-0.7L0.65,0.5H-0.65Z","M-3.7,0H-3.25M-2.8,0H-2.35M-1.9,0H-1.45M-1,0H-0.65M0.65,0H1M1.45,0H1.9M2.35,0H2.8M3.25,0H3.7M0,-0.6L0.55,0.4H-0.55Z","M-3.7,0H-3.58M-3.32,0H-3.2M-2.94,0H-2.82M-2.56,0H-2.44M-2.18,0H-2.06M-1.8,0H-1.68M-1.42,0H-1.3M-1.04,0H-0.92M0.92,0H1.04M1.3,0H1.42M1.68,0H1.8M2.06,0H2.18M2.44,0H2.56M2.82,0H2.94M3.2,0H3.32M3.58,0H3.7M0.6,0A0.6,0.6,0,1,1,-0.6,0A0.6,0.6,0,1,1,0.6,0Z"]},
     "legend":{"orient":"none","legendX":377,"legendY":9,"title":null,"padding":0,"rowPadding":0.5,"symbolSize":144,"symbolStrokeWidth":1,"symbolStrokeColor":"black","symbolOpacity":1,"labelAlign":"right","labelOffset":-25,"labelExpr":"{'a':'Max-RPC-1','b':'O-Max-RPC-1','c':'O-Max-RPCʳᵐ','d':'L-Max-RPCʳᵐ'}[datum.value]","encode":{"symbols":{"update":{"stroke":{"value":"black"},"strokeWidth":{"value":1},"opacity":{"value":1}}},"labels":{"update":{"dx":{"value":-15}}}}}},
    "fill":{"field":"s","type":"nominal","scale":{"domain":["a","b","c","d"],"range":["white","white","black","black"]},
     "legend":{"orient":"none","legendX":377,"legendY":9,"title":null,"padding":0,"rowPadding":0.5,"symbolSize":144,"symbolStrokeWidth":1,"symbolStrokeColor":"black","symbolOpacity":1,"labelAlign":"right","labelOffset":-25,"labelExpr":"{'a':'Max-RPC-1','b':'O-Max-RPC-1','c':'O-Max-RPCʳᵐ','d':'L-Max-RPCʳᵐ'}[datum.value]","encode":{"symbols":{"update":{"stroke":{"value":"black"},"strokeWidth":{"value":1},"opacity":{"value":1}}},"labels":{"update":{"dx":{"value":-15}}}}}}}}
 ],
 "resolve":{"axis":{"x":"independent","y":"independent"},"scale":{"shape":"independent","fill":"independent"}}
},
{"width":406,"height":80,"data":{"name":"rl2"},
 "transform":[{"fold":["a","b","c","d"],"as":["s","v"]}],
 "layer":[
  {"mark":{"type":"line","color":"black","strokeWidth":1},
   "encoding":{
    "x":{"field":"t","type":"quantitative","scale":{"domain":[0.75,0.85],"nice":false,"zero":false},"axis":{"values":[0.75,0.76,0.77,0.78,0.79,0.8,0.81,0.82,0.83,0.84,0.85],"format":"~g","title":"One-pass","titleFontStyle":"italic","titleFontSize":26,"titleX":239,"titleY":51,"titleAlign":"left","titleBaseline":"alphabetic","titleAngle":0}},
    "y":{"field":"v","type":"quantitative","scale":{"domain":[0,100],"nice":false},"axis":{"values":[0,25,50,75,100],"format":"d","title":"% removed","titleX":-55,"titleY":40,"titleAngle":-90,"titleAlign":"center","titleBaseline":"bottom"}},
    "strokeDash":{"field":"s","type":"nominal","scale":{"domain":["a","b","c","d"],"range":[[1,0],[6,4],[3,3],[1,2]]},"legend":null}}},
  {"mark":{"type":"point","size":45,"stroke":"black","strokeWidth":1,"opacity":1},
   "encoding":{
    "x":{"field":"t","type":"quantitative","scale":{"domain":[0.75,0.85],"nice":false,"zero":false},"axis":{"orient":"top","values":[0.75,0.76,0.77,0.78,0.79,0.8,0.81,0.82,0.83,0.84,0.85],"labels":false,"title":"(200, 30, 5%, t)","titleFontSize":24,"titleX":182,"titleY":161,"titleAlign":"center","titleBaseline":"alphabetic","titleAngle":0}},
    "y":{"field":"v","type":"quantitative","scale":{"domain":[0,100],"nice":false},"axis":{"orient":"right","values":[0,25,50,75,100],"labels":false,"title":null}},
    "shape":{"field":"s","type":"nominal","scale":{"domain":["a","b","c","d"],"range":["square","triangle-up","triangle-up","circle"]},"legend":null},
    "fill":{"field":"s","type":"nominal","scale":{"domain":["a","b","c","d"],"range":["white","white","black","black"]},"legend":null}}}
 ],
 "resolve":{"axis":{"x":"independent","y":"independent"}}
},
{"width":434,"height":80,"data":{"name":"rr2"},
 "transform":[{"fold":["a","b","c","d"],"as":["s","v"]}],
 "layer":[
  {"mark":{"type":"line","color":"black","strokeWidth":1},
   "encoding":{
    "x":{"field":"t","type":"quantitative","scale":{"domain":[0.65,0.75],"nice":false,"zero":false},"axis":{"values":[0.65,0.66,0.67,0.68,0.69,0.7,0.71,0.72,0.73,0.74,0.75],"format":"~g","title":"variants of Max-RPC algorithms","titleFontSize":26,"titleX":-193,"titleY":51,"titleAlign":"left","titleBaseline":"alphabetic","titleAngle":0}},
    "y":{"field":"v","type":"quantitative","scale":{"domain":[0,100],"nice":false},"axis":{"values":[0,25,50,75,100],"format":"d","title":null}},
    "strokeDash":{"field":"s","type":"nominal","scale":{"domain":["a","b","c","d"],"range":[[1,0],[6,4],[3,3],[1,2]]},"legend":null}}},
  {"mark":{"type":"point","size":45,"stroke":"black","strokeWidth":1,"opacity":1},
   "encoding":{
    "x":{"field":"t","type":"quantitative","scale":{"domain":[0.65,0.75],"nice":false,"zero":false},"axis":{"orient":"top","values":[0.65,0.66,0.67,0.68,0.69,0.7,0.71,0.72,0.73,0.74,0.75],"labels":false,"title":"(200, 30, 15%, t)","titleFontSize":24,"titleX":209,"titleY":161,"titleAlign":"center","titleBaseline":"alphabetic","titleAngle":0}},
    "y":{"field":"v","type":"quantitative","scale":{"domain":[0,100],"nice":false},"axis":{"orient":"right","values":[0,25,50,75,100],"labels":false,"title":null}},
    "shape":{"field":"s","type":"nominal","scale":{"domain":["a","b","c","d"],"range":["square","triangle-up","triangle-up","circle"]},"legend":null},
    "fill":{"field":"s","type":"nominal","scale":{"domain":["a","b","c","d"],"range":["white","white","black","black"]},"legend":null}}}
 ],
 "resolve":{"axis":{"x":"independent","y":"independent"}}
}
],
"columns": 2,
"spacing": {"row": 31, "column": 128},
"bounds": "flush",
"resolve": {"scale": {"strokeDash":"independent","shape":"independent","fill":"independent"}, "legend": {"strokeDash":"independent","shape":"independent","fill":"independent"}}
}
],
"spacing": 9,
"resolve": {"scale": {"strokeDash":"independent","shape":"independent","fill":"independent"}, "legend": {"strokeDash":"independent","shape":"independent","fill":"independent"}},
"config": {
 "font": "Liberation Serif, Times New Roman, Times, serif",
 "view": {"stroke": "black", "strokeWidth": 1},
 "text": {"font": "Liberation Serif, Times New Roman, Times, serif"},
 "axis": {"domain": false, "grid": false, "ticks": true, "tickSize": -5, "tickColor": "black", "tickWidth": 1, "labelFont": "Liberation Serif, Times New Roman, Times, serif", "labelFontSize": 15, "labelColor": "black", "labelPadding": 14, "labelFlush": false, "labelOverlap": false, "titleFont": "Liberation Serif, Times New Roman, Times, serif", "titleFontSize": 15, "titleFontWeight": "normal", "titleColor": "black"},
 "legend": {"labelFont": "Liberation Serif, Times New Roman, Times, serif", "labelFontSize": 15, "labelColor": "black"}
}
}
